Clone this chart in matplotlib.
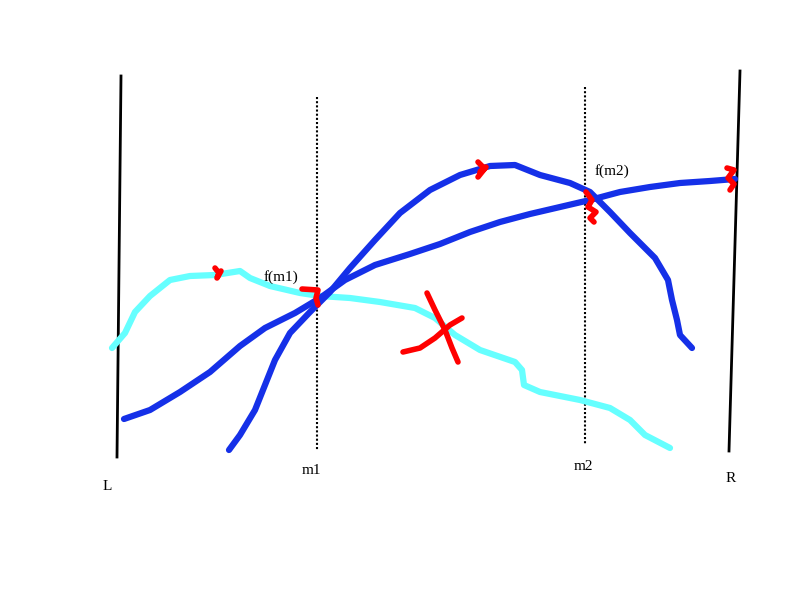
import matplotlib
matplotlib.use("Agg")
import matplotlib.pyplot as plt

left_x = [121, 117]; left_y = [76, 457]
right_x = [740, 729]; right_y = [71, 451]
m1_x = [317, 317]; m1_y = [97, 450]
m2_x = [585, 585]; m2_y = [87, 445]

cyan_x = [112,125,135,150,170,190,215,240,250,270,300,320,350,380,415,435,455,480,515,522,524,540,580,610,630,645,670]
cyan_y = [348,333,312,296,280,276,275,271,278,286,293,296,298,302,308,318,335,350,362,370,385,392,400,408,420,435,448]

blueA_x = [124,150,180,210,240,265,295,320,345,375,410,440,470,500,530,560,590,620,650,680,710,735]
blueA_y = [419,410,392,372,346,328,313,298,280,265,254,244,232,222,214,207,200,192,187,183,181,179]

blueB_x = [229,240,255,265,275,290,310,330,350,375,400,430,460,490,515,540,570,590,610,630,655,668,672,677,680,692]
blueB_y = [450,435,410,385,360,333,312,292,268,240,213,190,175,166,165,175,183,192,212,233,258,280,300,320,335,348]

red_marks = [
    ([427,435,445,452,458], [293,310,330,348,362]),
    ([403,420,435,450,462], [352,348,338,325,318]),
    ([302,318,316,318], [289,290,298,305]),
    ([478,484,480,486,478], [162,168,172,167,177]),
    ([586,592,588,596,590,594], [192,200,207,212,218,222]),
    ([727,734,728,734,730], [168,170,178,184,190]),
    ([215,219,217,221], [268,273,278,271]),
]

labels = [(107,486,"L"),(731,478,"R"),(311,470,"m1"),(583,467,"m2"),(281,277,"f(m1)"),(612,171,"f(m2)")]

fig = plt.figure(figsize=(8,6), dpi=100)
ax = fig.add_axes([0,0,1,1])
ax.set_xlim(0,800); ax.set_ylim(600,0); ax.axis("off")

ax.plot(left_x, left_y, color="black", lw=2)
ax.plot(right_x, right_y, color="black", lw=2)
ax.plot(m1_x, m1_y, color="black", lw=1.5, ls=(0,(1,1)))
ax.plot(m2_x, m2_y, color="black", lw=1.5, ls=(0,(1,1)))
ax.plot(cyan_x, cyan_y, color="#66ffff", lw=4.5, solid_capstyle="round")
ax.plot(blueA_x, blueA_y, color="#1530e8", lw=4.5, solid_capstyle="round")
ax.plot(blueB_x, blueB_y, color="#1530e8", lw=4.5, solid_capstyle="round")
for xs, ys in red_marks:
    ax.plot(xs, ys, color="red", lw=4, solid_capstyle="round")
for x, y, t in labels:
    ax.text(x, y, t, ha="center", va="center", fontsize=11, family="Liberation Serif")

fig.savefig("out.png", dpi=100)
